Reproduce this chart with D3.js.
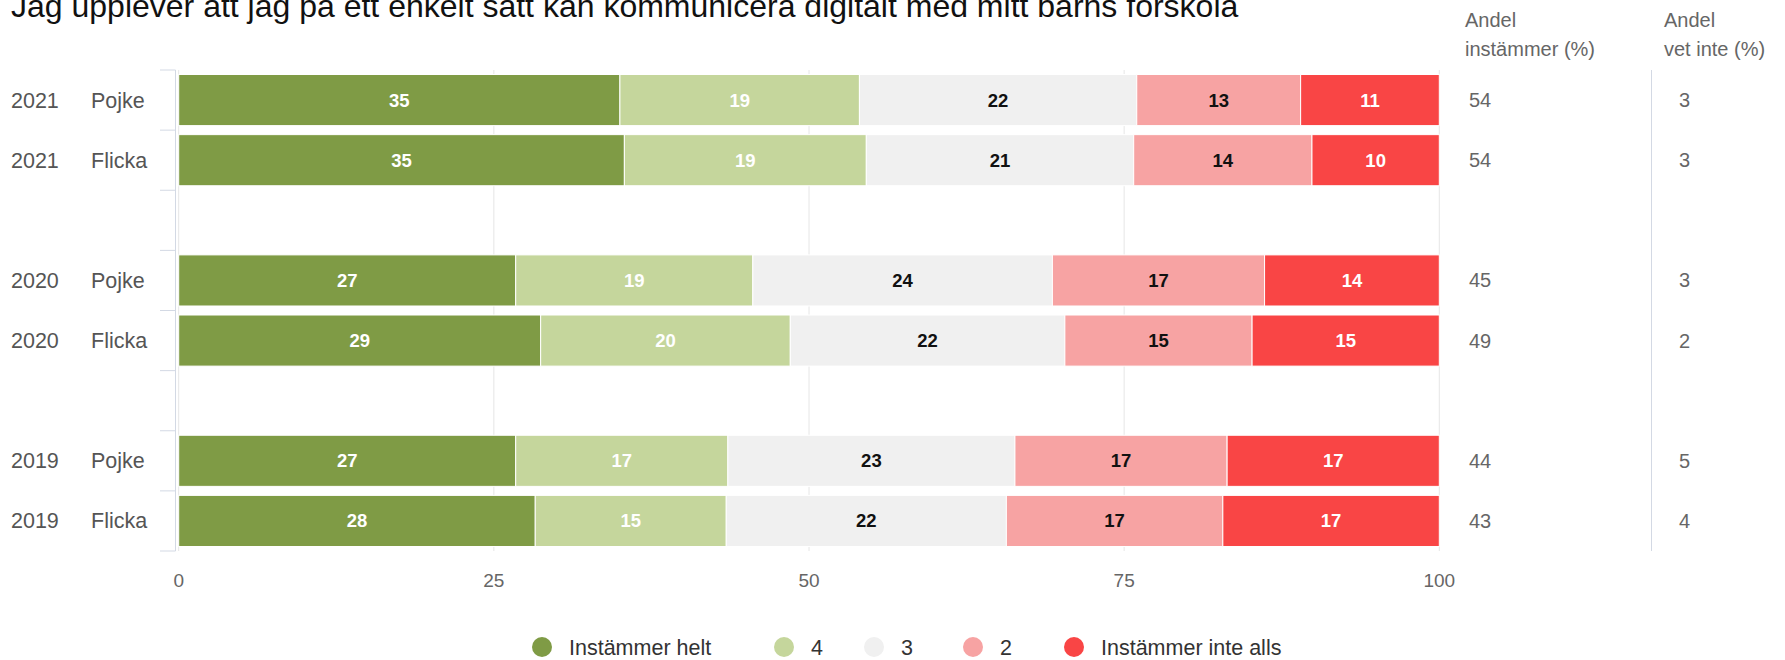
<!DOCTYPE html>
<html>
<head>
<meta charset="utf-8">
<script src="https://cdn.jsdelivr.net/npm/d3@7"></script>
<style>
  html, body { margin: 0; padding: 0; background: #fff; }
  svg { display: block; font-family: "Liberation Sans", Arial, Helvetica, sans-serif; }
</style>
</head>
<body>
<svg id="chart" width="1785" height="660"></svg>
<script>
// Survey answers per year and gender, in percent (empty rows separate the years)
const years   = ["2021", "2021", "", "2020", "2020", "", "2019", "2019"];
const genders = ["Pojke", "Flicka", "", "Pojke", "Flicka", "", "Pojke", "Flicka"];

const instammerHelt      = [35, 35, null, 27, 29, null, 27, 28];
const svar4              = [19, 19, null, 19, 20, null, 17, 15];
const svar3              = [22, 21, null, 24, 22, null, 23, 22];
const svar2              = [13, 14, null, 17, 15, null, 17, 17];
const instammerInteAlls  = [11, 10, null, 14, 15, null, 17, 17];

const andelInstammer = [54, 54, null, 45, 49, null, 44, 43];
const andelVetInte   = [3, 3, null, 3, 2, null, 5, 4];

const seriesNames  = ["Instämmer helt", "4", "3", "2", "Instämmer inte alls"];
const seriesColors = ["#7f9b45", "#c5d69c", "#f0f0f0", "#f7a3a3", "#f94545"];
const labelColors  = ["#ffffff", "#ffffff", "#111111", "#111111", "#ffffff"];
const xTicks = [0, 25, 50, 75, 100];

const title = "Jag upplever att jag på ett enkelt sätt kan kommunicera digitalt med mitt barns förskola";

const svg = d3.select("#chart");

const plot = { left: 178.7, right: 1439.3, top: 70, bottom: 551 };

const x = d3.scaleLinear().domain([0, 100]).range([plot.left, plot.right]);
const y = d3.scaleBand()
  .domain(d3.range(years.length))
  .range([plot.top, plot.bottom])
  .paddingInner(0.15)
  .paddingOuter(0.075);

// Rows for the stack, blank rows keep zeros so nothing is drawn there
const keys = ["s0", "s1", "s2", "s3", "s4"];
const allSeries = [instammerHelt, svar4, svar3, svar2, instammerInteAlls];
const rows = years.map((yr, i) => {
  const r = { i };
  keys.forEach((k, j) => { r[k] = allSeries[j][i] == null ? 0 : allSeries[j][i]; });
  return r;
});
const stacked = d3.stack().keys(keys).offset(d3.stackOffsetExpand)(rows.filter(r => years[r.i] !== ""));

// Vertical grid lines
svg.append("g")
  .selectAll("line")
  .data(xTicks)
  .join("line")
  .attr("x1", d => x(d)).attr("x2", d => x(d))
  .attr("y1", plot.top).attr("y2", plot.bottom)
  .attr("stroke", "#e6e6e6").attr("stroke-width", 1);

// X axis tick labels
svg.append("g")
  .selectAll("text")
  .data(xTicks)
  .join("text")
  .attr("x", d => x(d)).attr("y", 587)
  .attr("text-anchor", "middle")
  .attr("font-size", 19)
  .attr("fill", "#666")
  .text(d => d);

// Category axis line with ticks at band boundaries
const axisG = svg.append("g");
axisG.append("line")
  .attr("x1", 175.5).attr("x2", 175.5)
  .attr("y1", plot.top).attr("y2", plot.bottom)
  .attr("stroke", "#d3d9e4");
const step = y.step();
axisG.selectAll("line.tick")
  .data(d3.range(years.length + 1))
  .join("line")
  .attr("class", "tick")
  .attr("x1", 160).attr("x2", 175.5)
  .attr("y1", d => plot.top + d * step).attr("y2", d => plot.top + d * step)
  .attr("stroke", "#d3d9e4");

// Category labels: year and gender
const catG = svg.append("g").attr("font-size", 21.5).attr("fill", "#555");
catG.selectAll("text.year")
  .data(years.map((d, i) => ({ d, i })).filter(o => o.d !== ""))
  .join("text")
  .attr("class", "year")
  .attr("x", 11)
  .attr("y", o => y(o.i) + y.bandwidth() / 2 + 7.5)
  .text(o => o.d);
catG.selectAll("text.gender")
  .data(genders.map((d, i) => ({ d, i })).filter(o => o.d !== ""))
  .join("text")
  .attr("class", "gender")
  .attr("x", 91)
  .attr("y", o => y(o.i) + y.bandwidth() / 2 + 7.5)
  .text(o => o.d);

// Stacked bars
const barG = svg.append("g");
stacked.forEach((layer, j) => {
  const g = barG.append("g");
  g.selectAll("rect")
    .data(layer)
    .join("rect")
    .attr("x", d => x(d[0] * 100))
    .attr("y", d => y(d.data.i))
    .attr("width", d => x(d[1] * 100) - x(d[0] * 100))
    .attr("height", y.bandwidth())
    .attr("fill", seriesColors[j])
    .attr("stroke", "#ffffff")
    .attr("stroke-width", 1);
  g.selectAll("text")
    .data(layer)
    .join("text")
    .attr("x", d => (x(d[0] * 100) + x(d[1] * 100)) / 2)
    .attr("y", d => y(d.data.i) + y.bandwidth() / 2 + 6.5)
    .attr("text-anchor", "middle")
    .attr("font-size", 18.5)
    .attr("font-weight", "bold")
    .attr("fill", labelColors[j])
    .text(d => d.data[keys[j]]);
});

// Side table: share agreeing and share "don't know"
const tableG = svg.append("g").attr("font-size", 20).attr("fill", "#666");
tableG.append("text").attr("x", 1465).attr("y", 27).text("Andel");
tableG.append("text").attr("x", 1465).attr("y", 56).text("instämmer (%)");
tableG.append("text").attr("x", 1664).attr("y", 27).text("Andel");
tableG.append("text").attr("x", 1664).attr("y", 56).text("vet inte (%)");
tableG.append("line")
  .attr("x1", 1651.5).attr("x2", 1651.5)
  .attr("y1", plot.top).attr("y2", plot.bottom)
  .attr("stroke", "#d3d9e4");
tableG.selectAll("text.instammer")
  .data(andelInstammer.map((d, i) => ({ d, i })).filter(o => o.d != null))
  .join("text")
  .attr("class", "instammer")
  .attr("x", 1469)
  .attr("y", o => y(o.i) + y.bandwidth() / 2 + 7)
  .text(o => o.d);
tableG.selectAll("text.vetinte")
  .data(andelVetInte.map((d, i) => ({ d, i })).filter(o => o.d != null))
  .join("text")
  .attr("class", "vetinte")
  .attr("x", 1679)
  .attr("y", o => y(o.i) + y.bandwidth() / 2 + 7)
  .text(o => o.d);

// Title
svg.append("text")
  .attr("x", 11).attr("y", 17)
  .attr("font-size", 32)
  .attr("fill", "#111")
  .text(title);

// Legend
const legendX = [542, 784, 874, 973, 1074];
const legendG = svg.append("g");
const items = legendG.selectAll("g")
  .data(seriesNames)
  .join("g")
  .attr("transform", (d, i) => `translate(${legendX[i]},647)`);
items.append("circle").attr("r", 10).attr("fill", (d, i) => seriesColors[i]);
items.append("text")
  .attr("x", 27).attr("y", 7.5)
  .attr("font-size", 21.5)
  .attr("fill", "#333")
  .text(d => d);
</script>
</body>
</html>
